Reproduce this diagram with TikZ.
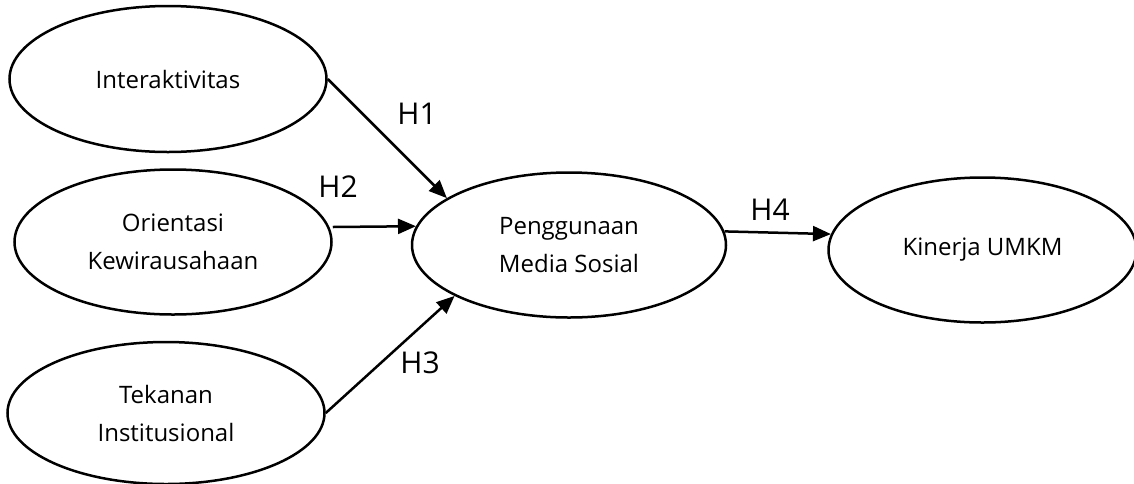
\documentclass[tikz,border=0pt]{standalone}
\usepackage{fontspec}
\setmainfont{Open Sans}
\usetikzlibrary{positioning,arrows.meta,shapes.geometric}

\begin{document}
\begin{tikzpicture}[
        x=1pt, y=-1pt,
        latent/.style={
            ellipse,
            draw,
            line width=2.5pt,
            minimum width=317pt,
            minimum height=145pt,
            inner sep=0pt,
            align=center,
            font=\fontsize{24}{38}\selectfont
        },
        arrow/.style={
            -{Triangle[length=18pt,width=15pt]},
            line width=2.5pt
        },
        hyp/.style={
            font=\fontsize{30}{36}\selectfont
        }
    ]
    \useasboundingbox (0,0) rectangle (1134,483);

    % Exogenous variables
    \node[latent] (orient) at (173,242) {Orientasi\\Kewirausahaan};
    \node[latent, above=15pt of orient, xshift=-5pt, minimum height=146pt] (inter) {Interaktivitas};
    \node[latent, below=25pt of orient, xshift=-7pt, minimum height=142pt] (tekanan) {Tekanan\\Institusional};

    % Mediator and outcome
    \node[latent, right=78pt of orient, yshift=-3pt, minimum width=314pt] (media) {Penggunaan\\Media Sosial};
    \node[latent, right=100pt of media, yshift=-5pt, minimum width=308pt] (kinerja) {Kinerja UMKM};

    % Paths
    \draw[arrow] (inter.east) -- (media.159);
    \draw[arrow] ([yshift=15pt]orient.east) -- (media.173);
    \draw[arrow] (tekanan.east) -- (media.204);
    \draw[arrow] (media.5) -- (kinerja.174);

    % Hypothesis labels
    \node[hyp] (h1) at (417,114) {H1};
    \node[hyp] (h2) at (338,187) {H2};
    \node[hyp] (h3) at (420,363) {H3};
    \node[hyp] (h4) at (770,210) {H4};

\end{tikzpicture}
\end{document}
